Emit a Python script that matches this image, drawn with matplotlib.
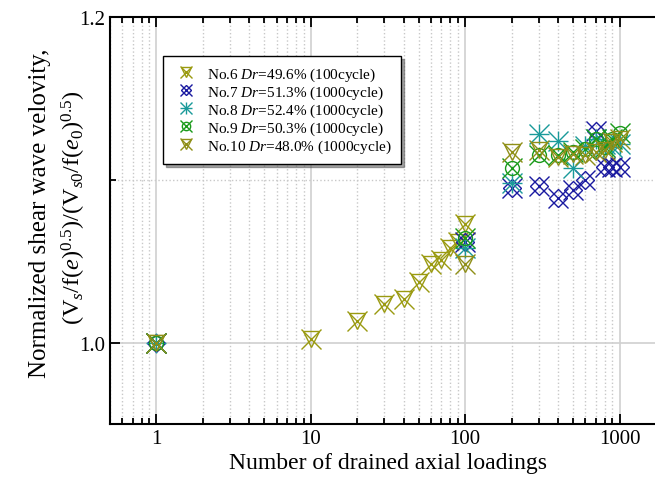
import matplotlib
matplotlib.use("Agg")
import matplotlib.pyplot as plt
from matplotlib.legend_handler import HandlerTuple
from matplotlib.ticker import FixedLocator, NullFormatter, FixedFormatter

plt.rcParams['font.family'] = ['Liberation Serif', 'DejaVu Serif']
plt.rcParams['mathtext.fontset'] = 'custom'
plt.rcParams['mathtext.rm'] = 'Liberation Serif'
plt.rcParams['mathtext.it'] = 'Liberation Serif:italic'

# ---- data ----
n6 = [1, 10, 20, 30, 40, 50, 60, 70, 80, 90, 100]
v6 = [1.000, 1.002, 1.013, 1.024, 1.027, 1.037, 1.048, 1.051, 1.058, 1.062, 1.073]

n7 = [1, 100, 200, 300, 400, 500, 600, 700, 800, 900, 1000]
v7 = [1.000, 1.062, 1.095, 1.096, 1.089, 1.094, 1.100, 1.130, 1.108, 1.108, 1.108]

n8 = [1, 100, 200, 300, 400, 500, 600, 700, 800, 900, 1000]
v8 = [1.000, 1.058, 1.098, 1.128, 1.124, 1.107, 1.121, 1.125, 1.122, 1.120, 1.122]

n9 = [1, 100, 200, 300, 400, 500, 600, 700, 800, 900, 1000]
v9 = [1.000, 1.064, 1.107, 1.115, 1.115, 1.117, 1.119, 1.125, 1.120, 1.125, 1.129]

n10 = [1, 100, 200, 300, 400, 500, 600, 700, 800, 900, 1000]
v10 = [1.000, 1.048, 1.117, 1.118, 1.114, 1.116, 1.115, 1.117, 1.118, 1.123, 1.125]

labels = [r"No.6 $\it{Dr}$=49.6% (100cycle)",
          r"No.7 $\it{Dr}$=51.3% (1000cycle)",
          r"No.8 $\it{Dr}$=52.4% (1000cycle)",
          r"No.9 $\it{Dr}$=50.3% (1000cycle)",
          r"No.10 $\it{Dr}$=48.0% (1000cycle)"]

olive = "#9a9a10"
blue = "#1a1aa0"
teal = "#1a9a9a"
green = "#1a9a1a"
olive2 = "#8f8f18"

series = [
    (n6, v6, olive, 'v', 11),
    (n7, v7, blue, 'D', 9),
    (n8, v8, teal, '+', 14),
    (n9, v9, green, 'o', 10),
    (n10, v10, olive2, 'v', 11),
]

fig = plt.figure(figsize=(6.55, 4.89), dpi=100)
ax = fig.add_axes([110/655, 64/489, 556/655, 407/489])

handles = []
for n, v, c, m2, s2 in series:
    h1, = ax.plot(n, v, linestyle='none', marker='x', markersize=14,
                  markeredgewidth=1.0, color=c)
    h2, = ax.plot(n, v, linestyle='none', marker=m2, markersize=s2,
                  markeredgewidth=1.0, markerfacecolor='none',
                  markeredgecolor=c)
    handles.append((h1, h2))

ax.set_xscale('log')
ax.set_xlim(0.5, 2000)
ax.set_ylim(0.95, 1.2)

ax.yaxis.set_major_locator(FixedLocator([1.0, 1.2]))
ax.yaxis.set_major_formatter(FixedFormatter(['1.0', '1.2']))
ax.yaxis.set_minor_locator(FixedLocator([1.1]))
ax.yaxis.set_minor_formatter(NullFormatter())

ax.xaxis.set_major_locator(FixedLocator([1, 10, 100, 1000]))
ax.xaxis.set_major_formatter(FixedFormatter(['1', '10', '100', '1000']))

ax.grid(True, which='major', color='#d0d0d0', linestyle='-', linewidth=1.2)
ax.grid(True, which='minor', color='#c8c8c8', linestyle=':', linewidth=1.0)
ax.set_axisbelow(True)

ax.tick_params(which='both', direction='in', top=True, right=False,
               labelsize=15, width=1.3)
ax.tick_params(which='major', length=7)
ax.tick_params(which='minor', length=4)
for side in ['left', 'bottom', 'top']:
    ax.spines[side].set_linewidth(1.5)
ax.spines['right'].set_visible(False)

ax.set_xlabel("Number of drained axial loadings", fontsize=17, labelpad=3)

# two-line y label: plain text line and formula line
fig.text(40/655, 1 - 213/489, "Normalized shear wave velovity,",
         rotation=90, ha='center', va='center', fontsize=18)
fig.text(74/655, 1 - 208/489,
         r"$(\mathrm{V}_s/\mathrm{f}(e)^{0.5})/(\mathrm{V}_{s0}/\mathrm{f}(e_0)^{0.5})$",
         rotation=90, ha='center', va='center', fontsize=17.5)

leg = ax.legend(handles, labels, handler_map={tuple: HandlerTuple(ndivide=1)},
                loc='upper left', bbox_to_anchor=(53/556, 1 - 39/407),
                fontsize=11, frameon=True, fancybox=False, shadow=True,
                borderpad=0.6, labelspacing=0.05, handletextpad=0.5,
                handlelength=1.8, borderaxespad=0, markerscale=0.6)
leg.get_frame().set_edgecolor('black')
leg.get_frame().set_linewidth(1.0)

fig.savefig("out.png", dpi=100)
